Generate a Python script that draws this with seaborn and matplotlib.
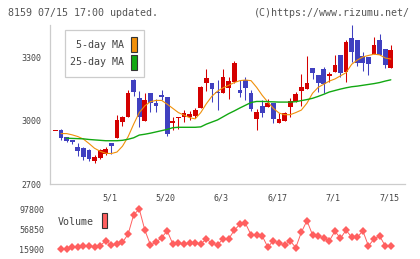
import numpy as np
import matplotlib
matplotlib.use("Agg")
import matplotlib.pyplot as plt
import matplotlib.patches as patches
import seaborn as sns

# daily candles (open, high, low, close), oldest first
opens = [2951, 2955, 2922, 2910, 2878, 2871, 2862, 2811, 2826, 2841,
         2895, 2917, 2997, 3021, 3195, 3108, 3001, 3135, 3087, 3124,
         3113, 2992, 3014, 3020, 3020, 3024, 3063, 3180, 3182, 3140,
         3132, 3159, 3187, 3148, 3195, 3135, 3011, 3071, 3065, 3087,
         2992, 3001, 3065, 3092, 3143, 3151, 3251, 3219, 3246, 3216,
         3235, 3314, 3235, 3394, 3386, 3310, 3303, 3320, 3386, 3343, 3254]
highs = [2951, 2960, 2925, 2910, 2894, 2875, 2865, 2838, 2865, 2875,
         2895, 3028, 3024, 3148, 3201, 3143, 3132, 3135, 3103, 3148,
         3116, 3020, 3018, 3052, 3049, 3060, 3165, 3246, 3182, 3195,
         3246, 3211, 3287, 3195, 3208, 3148, 3056, 3100, 3103, 3087,
         3037, 3044, 3108, 3140, 3224, 3310, 3251, 3219, 3256, 3235,
         3314, 3314, 3386, 3455, 3386, 3327, 3303, 3399, 3414, 3343, 3362]
lows = [2951, 2910, 2901, 2890, 2835, 2814, 2811, 2799, 2820, 2838,
        2841, 2917, 2978, 3020, 3121, 2973, 3001, 3044, 3044, 3100,
        2929, 2957, 2960, 2997, 3005, 3013, 3060, 3144, 3092, 3052,
        3132, 3103, 3179, 3116, 3100, 3049, 2957, 3020, 3065, 2992,
        2992, 3001, 3020, 3092, 3071, 3151, 3198, 3140, 3132, 3187,
        3235, 3208, 3187, 3279, 3262, 3240, 3219, 3320, 3314, 3251, 3254]
closes = [2951, 2917, 2906, 2900, 2857, 2830, 2819, 2830, 2862, 2867,
          2882, 3005, 3021, 3132, 3137, 3018, 3100, 3084, 3073, 3113,
          2938, 3001, 3017, 3040, 3033, 3052, 3163, 3206, 3152, 3132,
          3211, 3190, 3278, 3132, 3159, 3057, 3044, 3037, 3087, 3008,
          3010, 3037, 3097, 3129, 3163, 3182, 3230, 3180, 3175, 3224,
          3267, 3227, 3375, 3330, 3275, 3275, 3270, 3362, 3314, 3267, 3338]

nan = np.nan
ma5 = [nan, 2940, 2940, 2934, 2926, 2914, 2893, 2870, 2856, 2846,
       2845, 2852, 2880, 2925, 2985, 3040, 3072, 3092, 3098, 3098,
       3080, 3060, 3040, 3028, 3016, 3010, 3040, 3082, 3118, 3142,
       3158, 3170, 3183, 3192, 3195, 3192, 3160, 3122, 3090, 3060,
       3038, 3030, 3030, 3040, 3052, 3085, 3132, 3160, 3175, 3190,
       3200, 3215, 3230, 3270, 3290, 3305, 3312, 3318, 3315, 3300, 3295]
ma25 = [nan, nan, 2918, 2917, 2916, 2915, 2912, 2910, 2908, 2906,
        2906, 2906, 2908, 2913, 2920, 2933, 2937, 2942, 2948, 2954,
        2960, 2968, 2970, 2970, 2970, 2970, 2972, 2985, 2995, 3005,
        3020, 3035, 3048, 3062, 3075, 3088, 3093, 3093, 3092, 3091,
        3090, 3090, 3090, 3092, 3097, 3102, 3108, 3117, 3127, 3138,
        3145, 3152, 3158, 3163, 3166, 3170, 3174, 3178, 3183, 3190, 3196]

# volume for the last 60 sessions
volume = [15900, 16500, 20000, 21200, 23300, 22600, 21200, 23300, 32900, 24700,
          26000, 30100, 46500, 86000, 97800, 54800, 24700, 30100, 39600, 53400,
          26700, 28100, 26700, 28100, 28100, 26700, 36900, 28100, 24700, 36900,
          36900, 54800, 66600, 68600, 45100, 45100, 43100, 20000, 33600, 28100,
          24700, 32900, 19300, 50600, 74000, 45100, 43100, 38300, 32900, 52700,
          38300, 54800, 40300, 40300, 53400, 22600, 36900, 43100, 22600, 23300]

date_labels = ["5/1", "5/20", "6/3", "6/17", "7/1", "7/15"]
date_days = [10, 20, 30, 40, 50, 60]
price_ticks = [2700, 3000, 3300]
vol_ticks = [15900, 56850, 97800]

days = np.arange(len(opens))
vol_days = days[1:]

sns.set_style("white")
plt.rcParams["font.family"] = ["DejaVu Sans Mono", "DejaVu Sans"]

W, H = 420, 259
fig = plt.figure(figsize=(W / 100, H / 100), dpi=100)


def fx(px):
    return px / W


def fy(py):
    return 1 - py / H


grid = "#cccccc"
red = "#d40000"
blue = "#4040c0"
orange = "#f0900a"
green = "#12a812"
volc = "#ff5f5f"
txt = "#444444"

ax = fig.add_axes([fx(50), fy(184), fx(405) - fx(50), fy(25) - fy(184)])
xlim = (-0.97, 62.54)

o = np.array(opens, float)
c = np.array(closes, float)
up = c >= o
cols = np.where(up, red, blue)
body_lo = np.minimum(o, c)
body_h = np.maximum(np.abs(c - o), 4)

ax.vlines(days, lows, highs, colors=cols, lw=0.75, zorder=2)
ax.bar(days, body_h, bottom=body_lo, width=0.85, color=cols, linewidth=0, zorder=3)

sns.lineplot(x=days, y=ma5, ax=ax, color=orange, lw=0.8, zorder=4)
sns.lineplot(x=days, y=ma25, ax=ax, color=green, lw=1.0, zorder=4)

ax.set_xlim(*xlim)
ax.set_ylim(2700, 3457)
ax.set_xticks(np.linspace(xlim[0], xlim[1], 12))
ax.set_xticklabels([])
ax.set_yticks(price_ticks)
ax.set_yticklabels([str(t) for t in price_ticks], fontsize=6, color=txt)
ax.tick_params(axis="both", direction="inout", length=6, width=0.8, color=grid, pad=3.5)
ax.tick_params(axis="x", length=5.5)
for s in ["top", "right"]:
    ax.spines[s].set_visible(False)
for s in ["left", "bottom"]:
    ax.spines[s].set_color(grid)
    ax.spines[s].set_linewidth(0.9)
ax.set_xlabel("")
ax.set_ylabel("")

for d, lab in zip(date_days, date_labels):
    ax.text(d - 0.3, -14 / 159, lab, transform=ax.get_xaxis_transform(),
            ha="center", va="center", fontsize=6, color=txt)

# price legend
fig.patches.append(patches.Rectangle((fx(65), fy(77)), fx(144) - fx(65), fy(30) - fy(77),
                                     transform=fig.transFigure, facecolor="white",
                                     edgecolor=grid, lw=0.9, zorder=5))
for py, lab, col in [(44.5, "5-day MA", orange), (62, "25-day MA", green)]:
    fig.text(fx(124.5), fy(py), lab, ha="right", va="center", fontsize=7.2, color=txt, zorder=6)
    fig.patches.append(patches.Rectangle((fx(131), fy(py + 7.5)), fx(6.3), fy(0) - fy(15),
                                         transform=fig.transFigure, facecolor=col,
                                         edgecolor="#333333", lw=0.8, zorder=6))

# volume panel
axv = fig.add_axes([fx(50), fy(253), fx(405) - fx(50), fy(205) - fy(253)])
sns.lineplot(x=vol_days, y=volume, ax=axv, color=volc, lw=0.7, marker="D",
             markersize=4.2, markeredgewidth=0, markerfacecolor=volc)
axv.set_xlim(*xlim)
axv.set_ylim(15900 - 3.7 * 2047.5, 97800 + 4 * 2047.5)
axv.set_xticks([])
axv.set_yticks(vol_ticks)
axv.set_yticklabels([str(t) for t in vol_ticks], fontsize=6, color=txt)
axv.tick_params(axis="y", length=0, pad=4.3)
for s in axv.spines.values():
    s.set_visible(False)
axv.set_xlabel("")
axv.set_ylabel("")
axv.patch.set_alpha(0)

fig.text(fx(58), fy(222), "Volume", ha="left", va="center", fontsize=7.2, color=txt)
fig.patches.append(patches.Rectangle((fx(101.7), fy(228)), fx(5.6), fy(0) - fy(15),
                                     transform=fig.transFigure, facecolor=volc,
                                     edgecolor="#333333", lw=0.8, zorder=6))

fig.text(fx(8), fy(12.5), "8159 07/15 17:00 updated.", ha="left", va="center",
         fontsize=7.2, color="#555555")
fig.text(fx(410), fy(12.5), "(C)https://www.rizumu.net/", ha="right", va="center",
         fontsize=7.2, color="#555555")

fig.savefig("out.png", dpi=100)
